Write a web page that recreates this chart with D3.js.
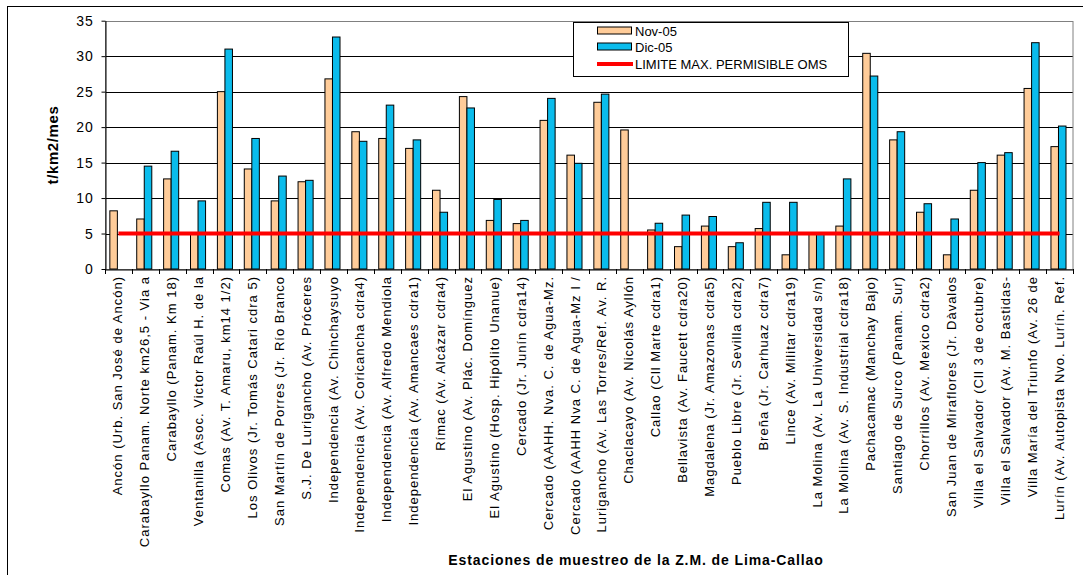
<!DOCTYPE html>
<html><head><meta charset="utf-8">
<script src="https://cdn.jsdelivr.net/npm/d3@7"></script>
<style>
html,body{margin:0;padding:0;background:#fff;}
svg{display:block;font-family:"Liberation Sans",Arial,sans-serif;}
</style></head>
<body>
<svg id="c" width="1083" height="575"></svg>
<script>
const stations = [
"Ancón (Urb. San José de Ancón)",
"Carabayllo Panam. Norte km26,5 - Via a",
"Carabayllo (Panam. Km 18)",
"Ventanilla (Asoc. Victor Raúl H. de la",
"Comas (Av. T. Amaru, km14 1/2)",
"Los Olivos (Jr. Tomás Catari cdra 5)",
"San Martín de Porres (Jr. Río Branco",
"S.J. De Lurigancho (Av. Próceres",
"Independencia (Av. Chinchaysuyo",
"Independencia (Av. Coricancha cdra4)",
"Independencia (Av. Alfredo Mendiola",
"Independencia (Av. Amancaes cdra1)",
"Rímac (Av. Alcázar cdra4)",
"El Agustino (Av. Plác. Domínguez",
"El Agustino (Hosp. Hipólito Unanue)",
"Cercado (Jr. Junín cdra14)",
"Cercado (AAHH. Nva. C. de Agua-Mz.",
"Cercado (AAHH Nva C. de Agua-Mz I /",
"Lurigancho (Av. Las Torres/Ref. Av. R.",
"Chaclacayo (Av. Nicolás Ayllón",
"Callao (Cll Marte cdra1)",
"Bellavista (Av. Faucett cdra20)",
"Magdalena (Jr. Amazonas cdra5)",
"Pueblo Libre (Jr. Sevilla cdra2)",
"Breña (Jr. Carhuaz cdra7)",
"Lince (Av. Militar cdra19)",
"La Molina (Av. La Universidad s/n)",
"La Molina (Av. S. Industrial cdra18)",
"Pachacamac (Manchay Bajo)",
"Santiago de Surco (Panam. Sur)",
"Chorrillos (Av. Mexico cdra2)",
"San Juan de Miraflores (Jr. Dàvalos",
"Villa el Salvador (Cll  3 de octubre)",
"Villa el Salvador (Av. M. Bastidas-",
"Villa María del Triunfo (Av. 26 de",
"Lurín (Av. Autopista Nvo. Lurín. Ref."
];
const nov05 = [8.2,7.05,12.7,5.0,25.0,14.1,9.6,12.3,26.8,19.35,18.4,17.0,11.1,24.3,6.85,6.4,20.95,16.05,23.5,19.6,5.5,3.15,6.05,3.15,5.7,2.0,5.1,6.05,30.4,18.2,8.0,2.0,11.1,16.05,25.45,17.25];
const dic05 = [0,14.5,16.6,9.6,31.0,18.4,13.1,12.5,32.7,18.0,23.1,18.2,8.0,22.7,9.8,6.85,24.05,14.9,24.65,0,6.45,7.6,7.4,3.7,9.4,9.4,4.9,12.7,27.2,19.35,9.2,7.05,15.0,16.4,31.9,20.15];
const limite = stations.map(() => 5);
const yTicks = [0,5,10,15,20,25,30,35];
const seriesNames = ["Nov-05","Dic-05","LIMITE MAX. PERMISIBLE OMS"];
const yLabel = "t/km2/mes";
const xLabel = "Estaciones de muestreo de la Z.M. de Lima-Callao";

const svg = d3.select("#c");
const colNov = "#FFCC99", colDic = "#0ABCEC", colRed = "#FF0000";
const L = 105, R = 1073, T = 20.7, B = 269;

// outer border
svg.append("rect").attr("x",7.5).attr("y",6.5).attr("width",1100).attr("height",600)
  .attr("fill","none").attr("stroke","#000").attr("stroke-width",1);

const x = d3.scaleBand().domain(stations).range([L,R]).padding(0);
const y = d3.scaleLinear().domain([0,35]).range([B,T]);
const bw = x.bandwidth();

// gridlines
svg.append("g").selectAll("line").data(yTicks.filter(d=>d>0 && d<35)).join("line")
  .attr("x1",L).attr("x2",R).attr("y1",d=>Math.round(y(d))+0.5).attr("y2",d=>Math.round(y(d))+0.5)
  .attr("stroke","#000").attr("stroke-width",1);
// plot border
svg.append("rect").attr("x",L+0.5).attr("y",Math.round(T)+0.5).attr("width",R-L-0.5).attr("height",B-Math.round(T))
  .attr("fill","none").attr("stroke","#808080").attr("stroke-width",1);

// bars
const g = svg.append("g");
const w = bw*0.28, off = bw*0.18;
g.selectAll("rect.nov").data(nov05).join("rect").attr("class","nov")
  .attr("x",(d,i)=>x(stations[i])+off).attr("y",d=>y(d)).attr("width",w).attr("height",d=>y(0)-y(d))
  .attr("fill",colNov).attr("stroke","#000").attr("stroke-width",1);
g.selectAll("rect.dic").data(dic05).join("rect").attr("class","dic")
  .attr("x",(d,i)=>x(stations[i])+off+w).attr("y",d=>y(d)).attr("width",w).attr("height",d=>y(0)-y(d))
  .attr("fill",colDic).attr("stroke","#000").attr("stroke-width",1)
  .attr("display",d=>d>0?null:"none");

// red limit line
svg.append("path").datum(limite)
  .attr("d",d3.line().x((d,i)=>x(stations[i])+bw/2).y(d=>y(d)))
  .attr("fill","none").attr("stroke",colRed).attr("stroke-width",4);

// y axis
const ya = svg.append("g").attr("transform",`translate(${L+0.5},0)`)
  .call(d3.axisLeft(y).tickValues(yTicks).tickSize(4).tickPadding(8).tickSizeOuter(0));
ya.select(".domain").attr("stroke","#000");
ya.selectAll("text").attr("font-size","14px").attr("fill","#000")
  .style("font-family","'Liberation Sans',Arial,sans-serif").attr("letter-spacing","0.8px");

// x axis
const xa = svg.append("g").attr("transform",`translate(0,${B+0.5})`)
  .call(d3.axisBottom(x).tickSize(0).tickFormat(""));
xa.select(".domain").attr("stroke","#000");
svg.append("g").selectAll("line").data(d3.range(stations.length+1)).join("line")
  .attr("x1",i=>Math.round(L+i*bw)+0.5).attr("x2",i=>Math.round(L+i*bw)+0.5)
  .attr("y1",B).attr("y2",B+5).attr("stroke","#000");

// category labels
svg.append("g").selectAll("text").data(stations).join("text")
  .attr("transform",d=>`translate(${x(d)+bw/2+4},${B+7}) rotate(-90)`)
  .attr("text-anchor","end").attr("font-size","13px").attr("letter-spacing","1px")
  .attr("fill","#000").text(d=>d);

// axis titles
svg.append("text").attr("transform",`translate(58,145) rotate(-90)`)
  .attr("text-anchor","middle").attr("font-size","15px").attr("font-weight","bold")
  .attr("letter-spacing","0.6px").text(yLabel);
svg.append("text").attr("x",636).attr("y",565).attr("text-anchor","middle")
  .attr("font-size","14px").attr("font-weight","bold").attr("letter-spacing","0.9px").text(xLabel);

// legend
const lg = svg.append("g");
lg.append("rect").attr("x",573.5).attr("y",22.5).attr("width",275).attr("height",54)
  .attr("fill","#fff").attr("stroke","#000");
const ly = [31,47,64];
lg.append("rect").attr("x",597.5).attr("y",ly[0]-4).attr("width",34).attr("height",7).attr("fill",colNov).attr("stroke","#000");
lg.append("rect").attr("x",597.5).attr("y",ly[1]-4).attr("width",34).attr("height",7).attr("fill",colDic).attr("stroke","#000");
lg.append("line").attr("x1",597).attr("x2",633).attr("y1",ly[2]).attr("y2",ly[2]).attr("stroke",colRed).attr("stroke-width",4);
lg.selectAll("text").data(seriesNames).join("text")
  .attr("x",635).attr("y",(d,i)=>ly[i]+5).attr("font-size","13px").text(d=>d);
</script>
</body></html>
